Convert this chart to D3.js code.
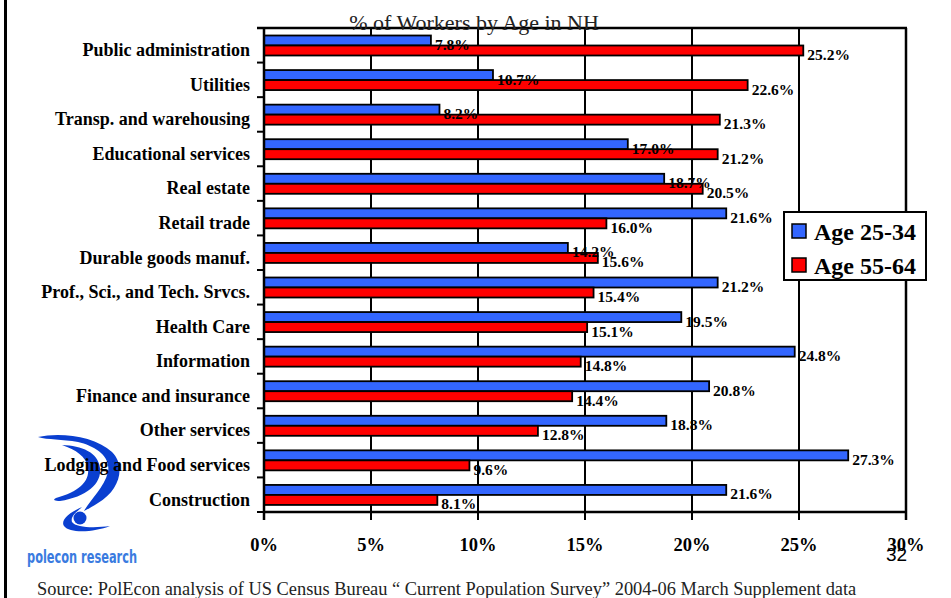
<!DOCTYPE html>
<html>
<head>
<meta charset="utf-8">
<script src="https://cdn.jsdelivr.net/npm/d3@7"></script>
<style>
  body { margin: 0; background: #fff; }
  text { font-family: "Liberation Serif", "Times New Roman", serif; }
</style>
</head>
<body>
<svg id="chart" width="951" height="598"></svg>
<script>
// categories top to bottom, as on the slide
let categories = ['Public administration', 'Utilities', 'Transp. and warehousing', 'Educational services',
    'Real estate ', 'Retail trade', 'Durable goods manuf.', 'Prof., Sci., and Tech. Srvcs.', 'Health Care ',
    'Information', 'Finance and insurance', 'Other services', 'Lodging and Food services', 'Construction']

let age2534 = [7.8, 10.7, 8.2, 17.0, 18.7, 21.6, 14.2, 21.2, 19.5, 24.8, 20.8, 18.8, 27.3, 21.6]
let age5564 = [25.2, 22.6, 21.3, 21.2, 20.5, 16.0, 15.6, 15.4, 15.1, 14.8, 14.4, 12.8, 9.6, 8.1]

let seriesNames = ['Age 25-34', 'Age 55-64']
let seriesColors = ['#3366ff', '#ff0000']
let xTicks = [0, 5, 10, 15, 20, 25, 30]

let svg = d3.select('#chart')
let plotL = 264, plotR = 906, plotT = 28, plotB = 512

var x = d3.scaleLinear().domain([0, 30]).range([plotL, plotR])
var y = d3.scaleBand().domain(categories).range([plotT, plotB])
var ySub = d3.scaleBand().domain(seriesNames).range([7.5, 27.5])

// frame line on the left of the slide
svg.append('line').attr('x1', 5.5).attr('x2', 5.5).attr('y1', 0).attr('y2', 598)
    .attr('stroke', '#000').attr('stroke-width', 3)

// polecon logo (rough), sits behind the category labels
var logo = svg.append('g').attr('fill', '#0a3fd0')
logo.append('path')
    .attr('d', 'M38,437 C60,432 95,436 112,452 C126,466 120,490 98,503 C92,507 88,509 84,511 C90,500 104,488 108,472 C111,456 95,446 78,442 C62,439 48,440 38,437 Z')
logo.append('path')
    .attr('d', 'M62,445 C82,446 98,452 100,468 C102,484 86,497 60,501 C55,501 52,500 56,498 C78,492 90,482 88,468 C86,456 76,450 62,445 Z')
logo.append('path')
    .attr('d', 'M82,507 C70,512 60,520 64,526 C70,534 95,532 110,526 C96,528 76,528 72,522 C70,516 78,511 82,507 Z')
logo.append('circle').attr('cx', 80).attr('cy', 518).attr('r', 6.5)
svg.append('text').attr('x', 27).attr('y', 563)
    .attr('font-size', 17).attr('font-weight', 'bold').attr('fill', '#3a7be0')
    .attr('textLength', 110).attr('lengthAdjust', 'spacingAndGlyphs')
    .style('font-family', '"Liberation Sans Narrow", "DejaVu Sans Condensed", sans-serif')
    .text('polecon research')

// gridlines
svg.append('g').selectAll('line')
    .data(xTicks.slice(1))
    .enter().append('line')
    .attr('x1', d => x(d)).attr('x2', d => x(d))
    .attr('y1', plotT).attr('y2', plotB + 8)
    .attr('stroke', '#000').attr('stroke-width', 2)

// top border of plot
svg.append('line').attr('x1', plotL - 7).attr('x2', plotR + 1)
    .attr('y1', plotT).attr('y2', plotT).attr('stroke', '#000').attr('stroke-width', 2.5)

// bars
var rows = categories.map((c, i) => ({cat: c, vals: [age2534[i], age5564[i]]}))
var g = svg.append('g').selectAll('g')
    .data(rows)
    .enter().append('g')
    .attr('transform', d => 'translate(0,' + y(d.cat) + ')')

g.selectAll('rect')
    .data(d => d.vals.map((v, k) => ({name: seriesNames[k], v: v, k: k})))
    .enter().append('rect')
    .attr('x', x(0))
    .attr('y', d => ySub(d.name))
    .attr('width', d => x(d.v) - x(0))
    .attr('height', ySub.bandwidth())
    .attr('fill', d => seriesColors[d.k])
    .attr('stroke', '#000').attr('stroke-width', 1.8)

g.selectAll('text')
    .data(d => d.vals.map((v, k) => ({name: seriesNames[k], v: v})))
    .enter().append('text')
    .attr('x', d => x(d.v) + 4)
    .attr('y', d => ySub(d.name) + ySub.bandwidth() + 4.5)
    .attr('font-size', 15.5).attr('font-weight', 'bold')
    .text(d => d.v.toFixed(1) + '%')

// y axis
var yAxis = svg.append('g')
yAxis.append('line').attr('x1', plotL).attr('x2', plotL).attr('y1', plotT).attr('y2', plotB + 8)
    .attr('stroke', '#000').attr('stroke-width', 2.5)
yAxis.selectAll('line.tick')
    .data(d3.range(categories.length + 1))
    .enter().append('line').attr('class', 'tick')
    .attr('x1', plotL - 7).attr('x2', plotL)
    .attr('y1', i => plotT + i * y.step()).attr('y2', i => plotT + i * y.step())
    .attr('stroke', '#000').attr('stroke-width', 2)
yAxis.selectAll('text')
    .data(categories)
    .enter().append('text')
    .attr('x', 250)
    .attr('y', d => y(d) + y.bandwidth() / 2 + 4.5)
    .attr('dy', '0.35em')
    .attr('text-anchor', 'end')
    .attr('font-size', 18).attr('font-weight', 'bold')
    .text(d => d)

// x axis
var xAxis = svg.append('g')
xAxis.append('line').attr('x1', plotL).attr('x2', plotR + 1).attr('y1', plotB).attr('y2', plotB)
    .attr('stroke', '#000').attr('stroke-width', 2.5)
xAxis.append('line').attr('x1', plotR).attr('x2', plotR).attr('y1', plotT).attr('y2', plotB + 8)
    .attr('stroke', '#000').attr('stroke-width', 2.5)
xAxis.selectAll('text')
    .data(xTicks)
    .enter().append('text')
    .attr('x', d => x(d))
    .attr('y', 551)
    .attr('text-anchor', 'middle')
    .attr('font-size', 18.5).attr('font-weight', 'bold')
    .text(d => d + '%')

// title
svg.append('text').attr('x', 474).attr('y', 30).attr('text-anchor', 'middle')
    .attr('font-size', 22).attr('fill', '#222')
    .text('% of Workers by Age in NH')

// legend
var lg = svg.append('g').attr('transform', 'translate(784,212)')
lg.append('rect').attr('width', 142).attr('height', 68)
    .attr('fill', '#fff').attr('stroke', '#000').attr('stroke-width', 2)
lg.selectAll('rect.sw')
    .data(seriesNames)
    .enter().append('rect').attr('class', 'sw')
    .attr('x', 8).attr('y', (d, i) => 12 + i * 34)
    .attr('width', 14).attr('height', 14)
    .attr('fill', (d, i) => seriesColors[i]).attr('stroke', '#000').attr('stroke-width', 1.5)
lg.selectAll('text')
    .data(seriesNames)
    .enter().append('text')
    .attr('x', 30).attr('y', (d, i) => 28 + i * 34)
    .attr('font-size', 24).attr('font-weight', 'bold')
    .text(d => d)

// page number
svg.append('text').attr('x', 886).attr('y', 561)
    .attr('font-size', 19).style('font-family', '"Liberation Sans", Arial, sans-serif')
    .text('32')

// source line
svg.append('text').attr('x', 37).attr('y', 595)
    .attr('font-size', 18.4).attr('fill', '#222')
    .text('Source: PolEcon analysis of US Census Bureau \u201C Current Population Survey\u201D 2004-06 March Supplement data')
</script>
</body>
</html>
